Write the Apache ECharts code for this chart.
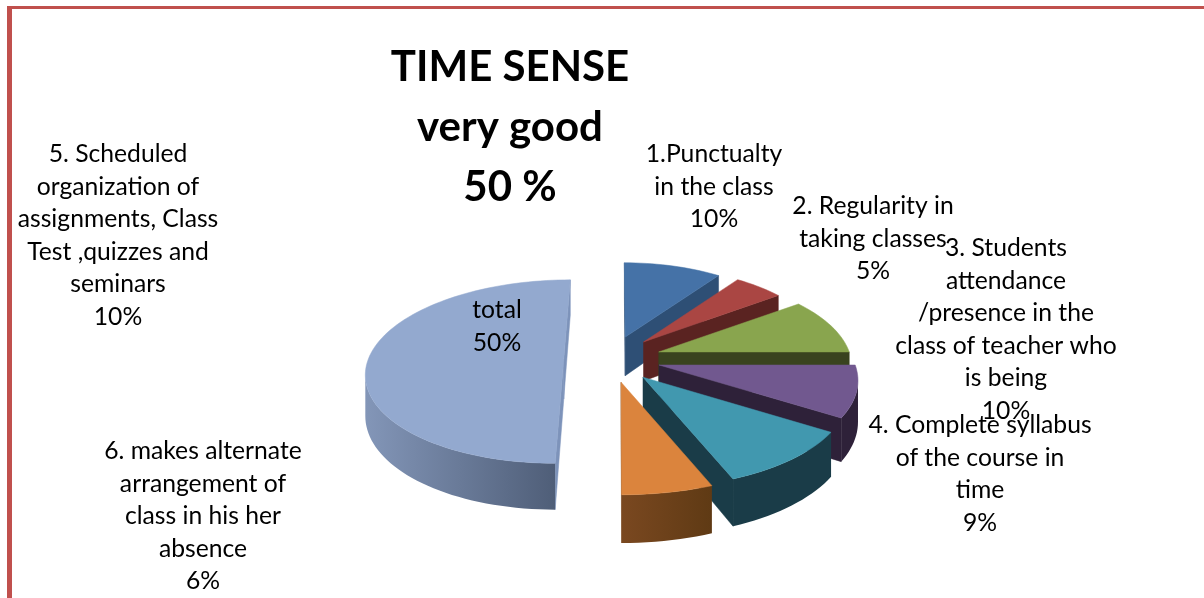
<!DOCTYPE html>
<html><head><meta charset="utf-8">
<style>html,body{margin:0;padding:0;background:#fff}#c{width:1204px;height:598px}</style>
<script src="https://cdn.jsdelivr.net/npm/echarts@6/dist/echarts.min.js"></script>
</head><body><div id="c"></div>
<script>
// ---- data ----
const sliceNames = ["1.Punctualty","2. Regularity","3. Students attendance","4. Complete syllabus","5. Scheduled organization","6. makes alternate","total"];
const sliceValues = [10, 5, 10, 9, 10, 6, 50];
const titleLines = ["TIME SENSE", "very good", "50 %"];
const labelTexts = [
  "1.Punctualty\nin the class\n10%",
  "2. Regularity in\ntaking classes\n5%",
  "3. Students\nattendance\n/presence in the\nclass of teacher who\nis being\n10%",
  "4. Complete syllabus\nof the course in\ntime\n9%",
  "5. Scheduled\norganization of\nassignments, Class\nTest ,quizzes and\nseminars\n10%",
  "6. makes alternate\narrangement of\nclass in his her\nabsence\n6%",
  "total\n50%"
];
// ---- layout ----
const labelAnchors = [[714,154.5],[873,206.5],[1006,248.5],[980,425.5],[118,154.5],[203,451.5],[497,310.5]];
const explodeX = [0.04,0.14,0.22,0.217,0.13,0.016,-0.29];
const explodeY = [0.2525,0.194,0.079,-0.066,-0.197,-0.25,0];
const widthScale = [0.98,1.0,1.03,1.04,1.06,1.1,1.045];
const topColors = ["#4572a7","#aa4643","#89a54e","#71588f","#4198af","#db843d","#93a9cf"];
const cutColors = ["#2e4f75","#5a2321","#39431f","#2e2139","#1a3c48","#7a4820","#7d93ba"];
const wallLeft  = ["#2e4f75","#5a2321","#39431f","#2e2139","#1a3c48","#7a4820","#8396b8"];
const wallRight = ["#2e4f75","#5a2321","#39431f","#2e2139","#1a3c48","#5f3a14","#4f5e78"];
const cx=618, cy=359, A=187, B=90, K=0.137, D=40;

const total = sliceValues.reduce((a,b)=>a+b,0);
function proj(X,Y,z){const w=1+K*Y;return [cx+X*A/w, cy-Y*B/w+z*D/w];}

function renderSlice(params, api){
  const i = params.dataIndex;
  let before = 0;
  for(let j=0;j<i;j++) before += sliceValues[j];
  const a0 = before/total*2*Math.PI, a1 = (before+api.value(0))/total*2*Math.PI;
  const ex=explodeX[i], ey=explodeY[i], s=widthScale[i];
  const n = Math.max(4,Math.ceil((a1-a0)/(Math.PI/90)));
  const rim=[];
  for(let t=0;t<=n;t++){const a=a0+(a1-a0)*t/n;rim.push([ex+s*Math.sin(a),ey+Math.cos(a)]);}
  const apex=[ex,ey];
  const children=[];
  const poly=(pts,fill)=>children.push({type:'polygon',shape:{points:pts},style:{fill:fill,stroke:typeof fill==='string'?fill:null,lineWidth:typeof fill==='string'?0.5:0}});
  const cut=(p,q)=>{
    const P=proj(p[0],p[1],0),Q=proj(q[0],q[1],0);
    if(Q[0]<P[0]) poly([P,Q,proj(q[0],q[1],1),proj(p[0],p[1],1)],cutColors[i]);
  };
  cut(apex,rim[0]);
  cut(rim[n],apex);
  // outer wall: only the run that faces the viewer
  const tops=[],bots=[];
  for(let t=0;t<n;t++){
    const P=proj(rim[t][0],rim[t][1],0),Q=proj(rim[t+1][0],rim[t+1][1],0);
    if(Q[0]<P[0]){
      if(!tops.length){tops.push(P);bots.push(proj(rim[t][0],rim[t][1],1));}
      tops.push(Q);bots.push(proj(rim[t+1][0],rim[t+1][1],1));
    }
  }
  if(tops.length>1){
    poly(tops.concat(bots.reverse()),new echarts.graphic.LinearGradient(0,0,1,0,[{offset:0,color:wallLeft[i]},{offset:1,color:wallRight[i]}]));
  }
  poly([proj(apex[0],apex[1],0)].concat(rim.map(p=>proj(p[0],p[1],0))),topColors[i]);
  return {type:'group',children:children};
}

const FONT = 'Lato';
const graphics = [
  {type:'rect',shape:{x:7,y:6,width:1197,height:3},style:{fill:'#c0504d'},silent:true},
  {type:'rect',shape:{x:7,y:6,width:5,height:592},style:{fill:'#c0504d'},silent:true},
  {type:'text',x:510,y:37,z:10,style:{text:titleLines.join('\n'),fontFamily:FONT,fontWeight:'bold',fontSize:42,lineHeight:60,align:'center',verticalAlign:'top',fill:'#000'}}
];
labelTexts.forEach((t,i)=>{
  graphics.push({type:'text',x:labelAnchors[i][0],y:labelAnchors[i][1]-16.25,z:10,style:{text:t,fontFamily:FONT,fontSize:24.7,lineHeight:32.5,align:'center',verticalAlign:'top',fill:'#000'}});
});

const chart = echarts.init(document.getElementById('c'),null,{renderer:'canvas'});
chart.setOption({
  backgroundColor:'#fff',
  animation:false,
  series:[{type:'custom',coordinateSystem:'none',silent:true,renderItem:renderSlice,
    data:sliceValues.map((v,i)=>({name:sliceNames[i],value:[v]}))}],
  graphic:graphics
});
</script></body></html>
